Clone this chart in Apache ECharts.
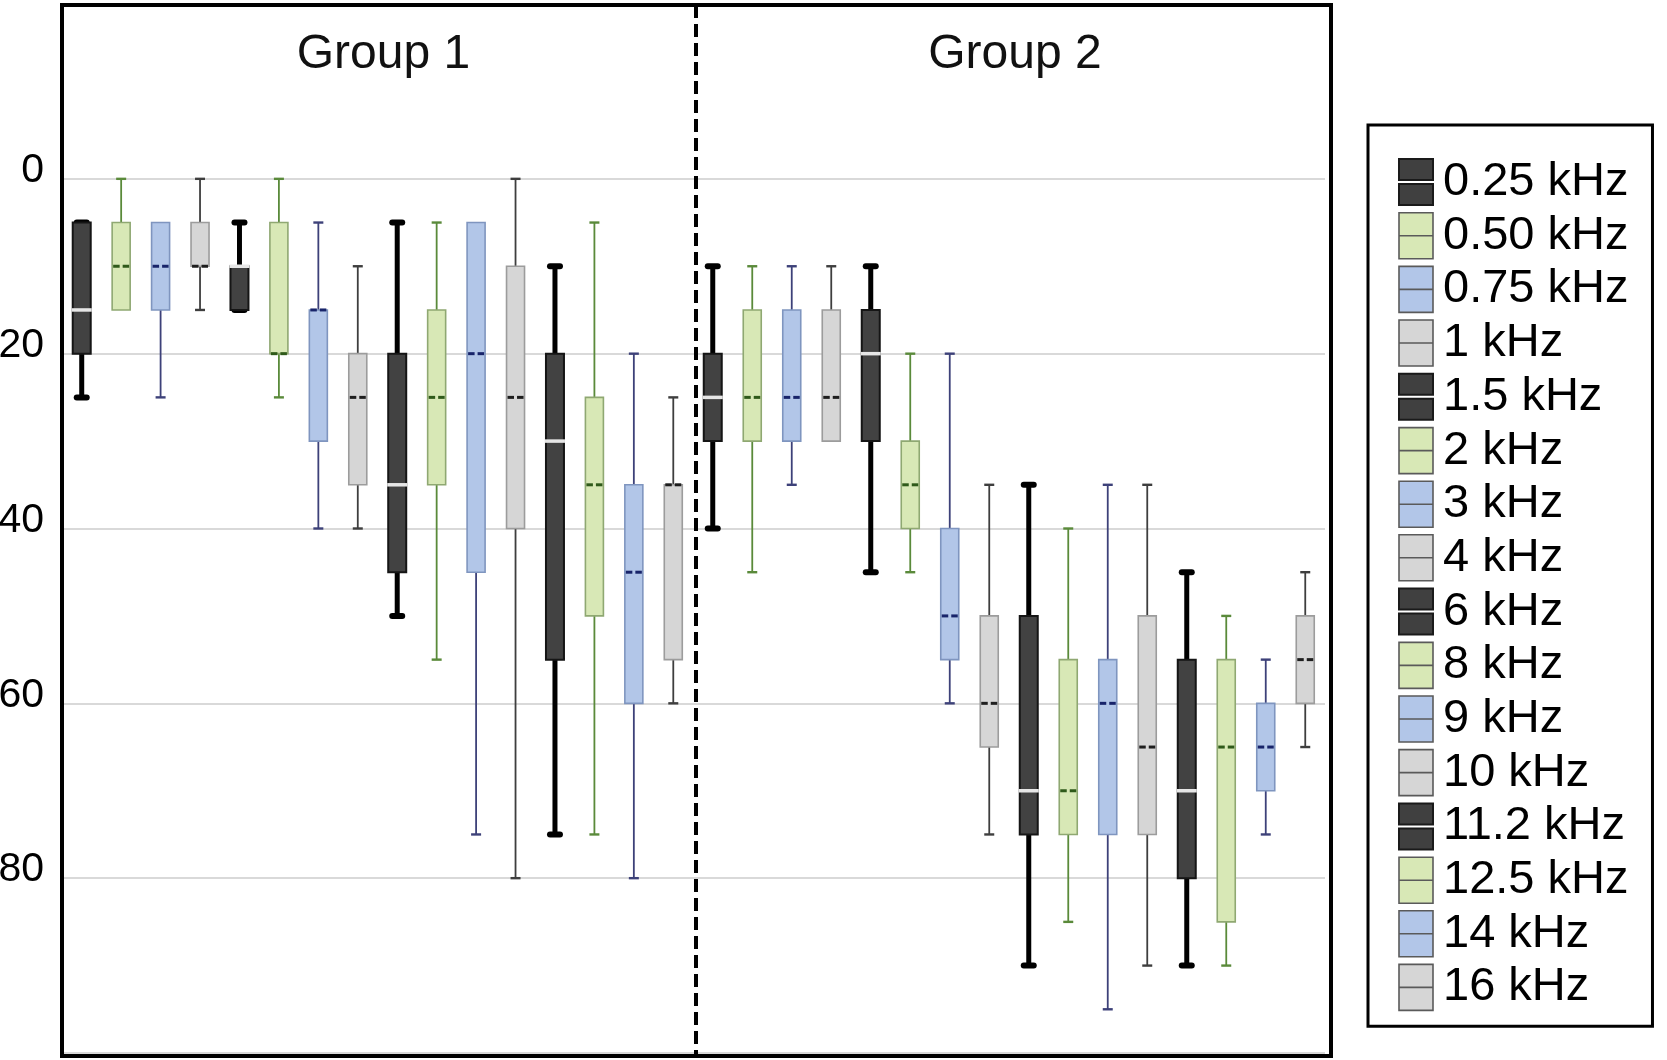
<!DOCTYPE html>
<html>
<head>
<meta charset="utf-8">
<script src="https://cdn.jsdelivr.net/npm/echarts@6/dist/echarts.min.js"></script>
<style>
html,body{margin:0;padding:0;background:#fff;}
#chart{width:1667px;height:1060px;}
</style>
</head>
<body>
<div id="chart"></div>
<script>
// ---------------- data ----------------
const frequencies = ['0.25 kHz','0.50 kHz','0.75 kHz','1 kHz','1.5 kHz','2 kHz','3 kHz','4 kHz',
                     '6 kHz','8 kHz','9 kHz','10 kHz','11.2 kHz','12.5 kHz','14 kHz','16 kHz'];
const groupNames = ['Group 1', 'Group 2'];
// each box: [min, Q1, median, Q3, max]  (threshold, dB)
const group1Boxes = [
  [5, 5, 15, 20, 25],
  [0, 5, 10, 15, 15],
  [5, 5, 10, 15, 25],
  [0, 5, 10, 10, 15],
  [5, 10, 10, 15, 15],
  [0, 5, 20, 20, 25],
  [5, 15, 15, 30, 40],
  [10, 20, 25, 35, 40],
  [5, 20, 35, 45, 50],
  [5, 15, 25, 35, 55],
  [5, 5, 20, 45, 75],
  [0, 10, 25, 40, 80],
  [10, 20, 30, 55, 75],
  [5, 25, 35, 50, 75],
  [20, 35, 45, 60, 80],
  [25, 35, 35, 55, 60]
];
const group2Boxes = [
  [10, 20, 25, 30, 40],
  [10, 15, 25, 30, 45],
  [10, 15, 25, 30, 35],
  [10, 15, 25, 30, 30],
  [10, 15, 20, 30, 45],
  [20, 30, 35, 40, 45],
  [20, 40, 50, 55, 60],
  [35, 50, 60, 65, 75],
  [35, 50, 70, 75, 90],
  [40, 55, 70, 75, 85],
  [35, 55, 60, 75, 95],
  [35, 50, 65, 75, 90],
  [45, 55, 70, 80, 90],
  [50, 55, 65, 85, 90],
  [55, 60, 65, 70, 75],
  [45, 50, 55, 60, 65]
];
const yTickLabels = [0, 20, 40, 60, 80];

// ---------------- styles ----------------
const boxStyles = [
  {dark: true,  fill: '#424242', border: '#151515', whisker: '#000000', median: '#e6e6e6'},
  {dark: false, fill: '#d8e8b6', border: '#8fa872', whisker: '#5a8a3a', median: '#2f5a1a'},
  {dark: false, fill: '#b2c6e8', border: '#7f95bf', whisker: '#3d4179', median: '#18246a'},
  {dark: false, fill: '#d6d6d6', border: '#9c9c9c', whisker: '#3e3e3e', median: '#1e1e1e'}
];

function renderBox(params, api) {
  const idx = api.value(0);
  const st = boxStyles[idx % 4];
  const vals = [api.value(1), api.value(2), api.value(3), api.value(4), api.value(5)];
  const p = vals.map(v => api.coord([idx, v]));
  const x = p[0][0];
  const hw = 9;
  const yMin = p[0][1], yQ1 = p[1][1], yMed = p[2][1], yQ3 = p[3][1], yMax = p[4][1];
  const children = [];
  if (st.dark) {
    children.push({type: 'line', shape: {x1: x, y1: yMin, x2: x, y2: yMax},
      style: {stroke: st.whisker, lineWidth: 5}});
    [yMin, yMax].forEach(y => children.push({type: 'line', shape: {x1: x - 5, y1: y, x2: x + 5, y2: y},
      style: {stroke: st.whisker, lineWidth: 6, lineCap: 'round'}}));
  } else {
    if (vals[0] < vals[1]) {
      children.push({type: 'line', shape: {x1: x, y1: yMin, x2: x, y2: yQ1}, style: {stroke: st.whisker, lineWidth: 1.8}});
      children.push({type: 'line', shape: {x1: x - 5, y1: yMin, x2: x + 5, y2: yMin}, style: {stroke: st.whisker, lineWidth: 2.4}});
    }
    if (vals[4] > vals[3]) {
      children.push({type: 'line', shape: {x1: x, y1: yQ3, x2: x, y2: yMax}, style: {stroke: st.whisker, lineWidth: 1.8}});
      children.push({type: 'line', shape: {x1: x - 5, y1: yMax, x2: x + 5, y2: yMax}, style: {stroke: st.whisker, lineWidth: 2.4}});
    }
  }
  children.push({type: 'rect', shape: {x: x - hw, y: yQ1, width: hw * 2, height: yQ3 - yQ1},
    style: {fill: st.fill, stroke: st.border, lineWidth: st.dark ? 2 : 1.6}});
  if (st.dark) {
    children.push({type: 'line', shape: {x1: x - hw - 1, y1: yMed, x2: x + hw + 1, y2: yMed},
      style: {stroke: st.median, lineWidth: 3.5}});
  } else {
    children.push({type: 'line', shape: {x1: x - hw + 1, y1: yMed, x2: x - 1.5, y2: yMed}, style: {stroke: st.median, lineWidth: 3}});
    children.push({type: 'line', shape: {x1: x + 1.5, y1: yMed, x2: x + hw - 1, y2: yMed}, style: {stroke: st.median, lineWidth: 3}});
  }
  return {type: 'group', children: children};
}

// ---------------- layout ----------------
const gridTop = 4, gridHeight = 1049;
const grids = [
  {left: 62, top: gridTop, width: 631, height: gridHeight},
  {left: 693, top: gridTop, width: 632, height: gridHeight}
];

const series = [];
[group1Boxes, group2Boxes].forEach((boxes, g) => {
  frequencies.forEach((f, i) => {
    series.push({
      type: 'custom',
      name: f,
      xAxisIndex: g,
      yAxisIndex: g,
      renderItem: renderBox,
      encode: {x: 0, y: [1, 2, 3, 4, 5]},
      itemStyle: {color: boxStyles[i % 4].fill},
      data: [[i].concat(boxes[i])],
      z: 3
    });
  });
});

const legendData = frequencies.map((f, i) => {
  const st = boxStyles[i % 4];
  return st.dark ? {
    name: f,
    icon: 'path://M0,0H34V21H0Z M0,25H34V46H0Z',
    itemStyle: {color: '#404040', borderColor: '#1a1a1a', borderWidth: 2}
  } : {
    name: f,
    icon: 'path://M0,0H34V23H0Z M0,23H34V46H0Z',
    itemStyle: {color: st.fill, borderColor: '#5a5a5a', borderWidth: 1.6}
  };
});

const yAxisBase = {
  type: 'value', inverse: true, min: -20, max: 100, interval: 20,
  axisLine: {show: false}, axisTick: {show: false},
  splitLine: {show: true, lineStyle: {color: '#d9d9d9', width: 2}}
};

const option = {
  backgroundColor: '#ffffff',
  animation: false,
  title: groupNames.map((n, g) => ({
    text: n,
    left: grids[g].left + grids[g].width / 2 + 1,
    top: 26,
    textAlign: 'center',
    textStyle: {fontFamily: 'Liberation Sans, Arial, sans-serif', fontSize: 48, fontWeight: 'normal', color: '#111', lineHeight: 48}
  })),
  grid: grids.map(gr => Object.assign({containLabel: false, outerBoundsMode: 'none'}, gr)),
  xAxis: grids.map((gr, g) => ({
    type: 'category', gridIndex: g, data: frequencies, boundaryGap: true,
    axisLine: {show: false}, axisTick: {show: false}, axisLabel: {show: false}, splitLine: {show: false}
  })),
  yAxis: [
    Object.assign({}, yAxisBase, {
      gridIndex: 0,
      axisLabel: {
        show: true, fontSize: 41, color: '#000', margin: 18,
        fontFamily: 'Liberation Sans, Arial, sans-serif',
        verticalAlign: 'bottom', lineHeight: 16,
        formatter: v => (yTickLabels.indexOf(v) >= 0 ? String(v) : '')
      }
    }),
    Object.assign({}, yAxisBase, {gridIndex: 1, axisLabel: {show: false}})
  ],
  legend: {
    orient: 'vertical',
    left: 1368, top: 125,
    padding: [33, 24, 15, 30],
    borderColor: '#000', borderWidth: 3,
    itemWidth: 34, itemHeight: 46, itemGap: 6,
    symbolKeepAspect: false,
    selectedMode: false,
    textStyle: {fontFamily: 'Liberation Sans, Arial, sans-serif', fontSize: 47, lineHeight: 46, color: '#000', padding: [0, 0, 0, 5]},
    data: legendData
  },
  graphic: [
    {type: 'rect', z: 100, silent: true,
     shape: {x: 62, y: 5, width: 1269, height: 1051},
     style: {fill: 'none', stroke: '#000', lineWidth: 4}},
    {type: 'line', z: 100, silent: true,
     shape: {x1: 696, y1: 5, x2: 696, y2: 1056},
     style: {stroke: '#000', lineWidth: 4, lineDash: [13, 6]}}
  ],
  series: series
};

const chart = echarts.init(document.getElementById('chart'));
chart.setOption(option);
</script>
</body>
</html>
